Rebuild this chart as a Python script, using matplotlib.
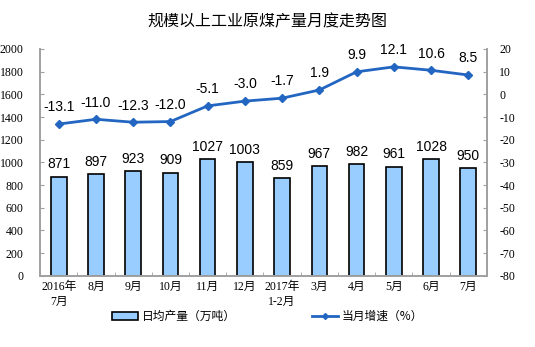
import numpy as np
import matplotlib.pyplot as plt
from matplotlib.lines import Line2D
from matplotlib.patches import Patch

months = ["2016年\n7月", "8月", "9月", "10月", "11月", "12月", "2017年\n1-2月",
          "3月", "4月", "5月", "6月", "7月"]
daily_output = [871, 897, 923, 909, 1027, 1003, 859, 967, 982, 961, 1028, 950]
growth = [-13.1, -11.0, -12.3, -12.0, -5.1, -3.0, -1.7, 1.9, 9.9, 12.1, 10.6, 8.5]

plt.rcParams['axes.unicode_minus'] = False
cjk = ['Noto Sans CJK SC', 'DejaVu Sans']
serif = ['Liberation Serif', 'Noto Sans CJK SC']
sans = ['Liberation Sans', 'Noto Sans CJK SC']

fig = plt.figure(figsize=(5.35, 3.47), dpi=100)
ax = fig.add_axes([0.075, 0.205, 0.835, 0.654])
ax2 = ax.twinx()

x = np.arange(len(months))
ax.bar(x, daily_output, width=0.42, color='#99CCFF', edgecolor='black', linewidth=1.2, zorder=2)
for xi, v in zip(x, daily_output):
    ax.annotate(str(v), (xi, v), xytext=(0, 4), textcoords='offset points',
                ha='center', va='bottom', fontsize=10, family=sans)

ax2.plot(x, growth, color='#2266C2', linewidth=2, marker='D', markersize=4, zorder=3)
for xi, v in zip(x, growth):
    ax2.annotate(f"{v:.1f}", (xi, v), xytext=(0, 7), textcoords='offset points',
                 ha='center', va='bottom', fontsize=10, family=sans)

ax.set_xlim(-0.5, len(months) - 0.5)
ax.set_ylim(0, 2000)
ax.set_yticks(range(0, 2001, 200))
ax2.set_ylim(-80, 20)
ax2.set_yticks(range(-80, 21, 10))

ax.set_xticks(x)
ax.set_xticklabels(months, fontsize=8.5, family=serif, linespacing=1.3)
ax.set_xticks(np.arange(-0.5, len(months), 1), minor=True)
ax.tick_params(axis='x', which='major', length=0, pad=4)
ax.tick_params(axis='x', which='minor', length=3, color='#A0A0A0', direction='in')
ax.tick_params(axis='y', length=3, direction='in', color='#A0A0A0', labelsize=8.5, pad=12)
ax2.tick_params(axis='y', length=3, direction='in', color='#A0A0A0', labelsize=8.5, pad=9)
for lab in ax.get_yticklabels() + ax2.get_yticklabels():
    lab.set_family(serif)

for a in (ax, ax2):
    a.spines['top'].set_visible(False)
    for s in ('left', 'right', 'bottom'):
        a.spines[s].set_color('#A0A0A0')
        a.spines[s].set_linewidth(1.2)

fig.text(0.5, 0.937, "规模以上工业原煤产量月度走势图", ha='center', va='center',
         fontsize=11.5, family=cjk)

handles = [Patch(facecolor='#99CCFF', edgecolor='black', linewidth=1.2),
           Line2D([], [], color='#2266C2', linewidth=2, marker='D', markersize=3)]
fig.legend(handles, ["日均产量（万吨）", "当月增速（%）"], loc='center',
           bbox_to_anchor=(0.5, 0.087), ncol=2, frameon=False, columnspacing=6.5,
           handlelength=2.2, handleheight=0.6, handletextpad=0.3,
           prop={'family': cjk, 'size': 8.5})

fig.savefig("out.png", dpi=100)
